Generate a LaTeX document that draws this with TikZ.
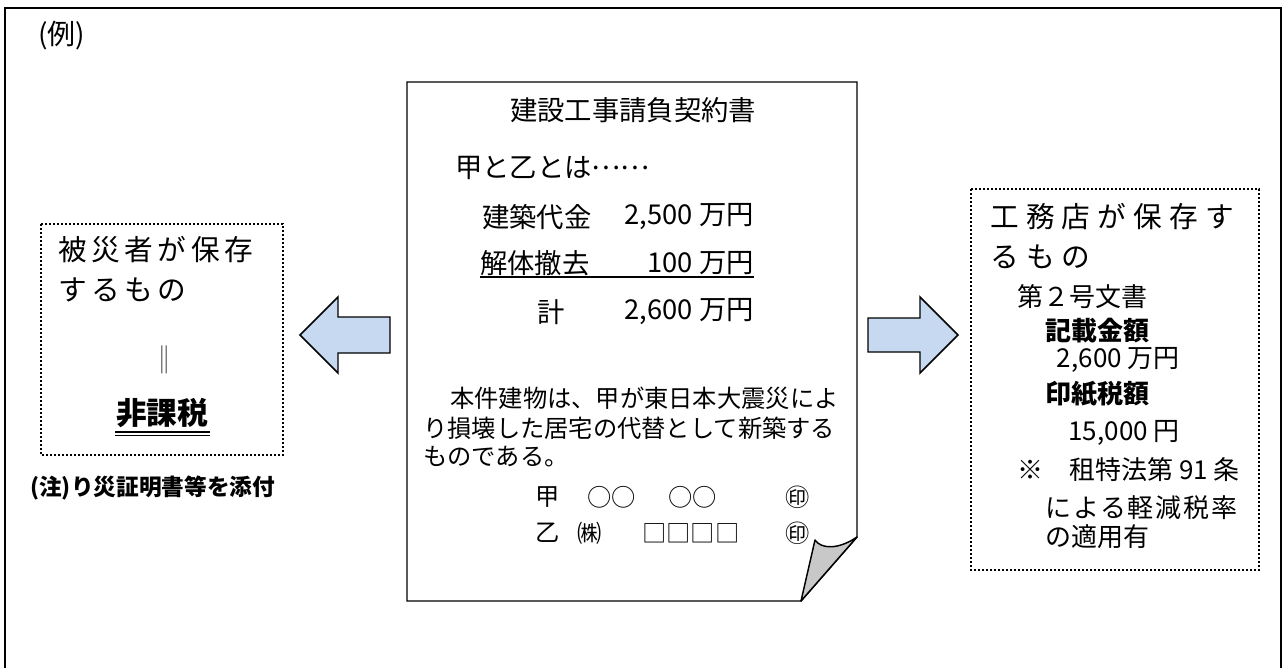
\documentclass[tikz,border=0pt]{standalone}
\usepackage{fontspec}
\setmainfont{Noto Sans CJK JP}
\newfontfamily\jpsp[LetterSpace=16]{Noto Sans CJK JP}
\newfontfamily\jpspw[LetterSpace=25]{Noto Sans CJK JP}
\newfontfamily\jpspn[LetterSpace=7]{Noto Sans CJK JP}
\definecolor{arrowblue}{RGB}{198,217,240}
\definecolor{flapgray}{RGB}{200,200,200}
\begin{document}
\begin{tikzpicture}[x=0.75pt,y=-0.75pt,
  txt/.style={inner sep=0pt, anchor=west},
  ctxt/.style={inner sep=0pt, anchor=center},
  etxt/.style={inner sep=0pt, anchor=east},
  big/.style={font=\fontsize{20.5}{24}\selectfont},
  mid/.style={font=\fontsize{18.2}{22}\selectfont},
  rsm/.style={font=\fontsize{19.5}{23}\selectfont},
  dotbox/.style={line width=1.7pt, dash pattern=on 1.6pt off 1.4pt},
  bigarrow/.style={draw=black, line width=1.1pt, fill=arrowblue, line join=miter},
]
\useasboundingbox (0,0) rectangle (1283,668);
\fill[white] (0,0) rectangle (1283,668);
% outer frame (open at the bottom)
\draw[line width=1.4pt] (5,668) -- (5,8) -- (1281,8) -- (1281,668);
\node[txt, font=\fontsize{21}{25}\selectfont] (rei) at (38,36) {(例)};

% left box
\draw[dotbox] (41,224) rectangle (283,455);
\node[txt, font=\jpsp\fontsize{21.5}{25}\selectfont] (l1) at (58,250) {被災者が保存};
\node[txt, font=\jpsp\fontsize{21.5}{25}\selectfont] (l2) at (58,290) {するもの};
\node[ctxt, font=\fontsize{21}{24}\selectfont, text=black!75] (l3) at (164,360) {‖};
\node[ctxt, font=\fontsize{23}{27}\selectfont\bfseries] (l4) at (162,413) {非課税};
\draw[line width=0.8pt] (115,432) -- (210,432);
\draw[line width=0.8pt] (115,435.5) -- (210,435.5);
\node[txt, font=\fontsize{17}{20}\selectfont\bfseries] (note) at (30,488) {(注)り災証明書等を添付};

% arrows
\draw[bigarrow] (300,335) -- (338,297) -- (338,317) -- (390,317) -- (390,353) -- (338,353) -- (338,373) -- cycle;
\draw[bigarrow] (958,335) -- (920,297) -- (920,318) -- (868,318) -- (868,352) -- (920,352) -- (920,373) -- cycle;

% document
\draw[line width=1.1pt, fill=white, line join=miter] (407,82) -- (857,82) -- (857,537) -- (801,601) -- (407,601) -- cycle;
\draw[line width=1.1pt, fill=flapgray, line join=round] (801,601) -- (815,540) .. controls (821,549) and (838,550) .. (857,537) -- cycle;

\node[ctxt, big] (title) at (633,110) {建設工事請負契約書};
\node[txt, big] (kotsu) at (455,168) {甲と乙とは\raisebox{0.28em}{……}};
\node[txt, big] (r1a) at (482,217) {建築代金};
\node[etxt, big] (r1b) at (754,217) {2,500 万円};
\node[txt, big] (r2a) at (480,263) {解体撤去};
\node[etxt, big] (r2b) at (754,263) {100 万円};
\draw[line width=1pt] (480,277) -- (754,277);
\node[ctxt, big] (r3a) at (551,312) {計};
\node[etxt, big] (r3b) at (754,312) {2,600 万円};

\node[txt, mid] (p1) at (450,398) {本件建物は、甲が東日本大震災によ};
\node[txt, mid] (p2) at (423,428) {り損壊した居宅の代替として新築する};
\node[txt, mid] (p3) at (423,457) {ものである。};

\node[txt, mid] (s1a) at (535,497) {甲};
\node[txt, mid] (s1b) at (587,497) {○○};
\node[txt, mid] (s1c) at (668,497) {○○};
\node[txt, mid] (s1d) at (785,497) {㊞};
\node[txt, mid] (s2a) at (535,533) {乙};
\node[txt, mid] (s2b) at (577,533) {㈱};
\node[txt, mid] (s2c) at (642,533) {□□□□};
\node[txt, mid] (s2d) at (785,533) {㊞};

% right box
\draw[dotbox] (971,189) rectangle (1259,570);
\node[txt, font=\jpspw\fontsize{21.5}{25}\selectfont] (q1) at (990,217) {工務店が保存す};
\node[txt, font=\jpspw\fontsize{21.5}{25}\selectfont] (q2) at (990,257) {るもの};
\node[txt, rsm] (q3) at (1017,297) {第２号文書};
\node[txt, rsm, font=\fontsize{19.5}{23}\selectfont\bfseries] (q4) at (1045,331) {記載金額};
\node[etxt, rsm] (q5) at (1180,360) {2,600 万円};
\node[txt, rsm, font=\fontsize{19.5}{23}\selectfont\bfseries] (q6) at (1045,394) {印紙税額};
\node[etxt, rsm] (q7) at (1180,433) {15,000 円};
\node[txt, rsm] (q8a) at (1017,470) {※};
\node[etxt, rsm] (q8b) at (1240,470) {租特法第 91 条};
\node[txt, font=\jpspn\fontsize{19.5}{23}\selectfont] (q9) at (1045,508) {による軽減税率};
\node[txt, rsm] (q10) at (1045,537) {の適用有};
\end{tikzpicture}
\end{document}
